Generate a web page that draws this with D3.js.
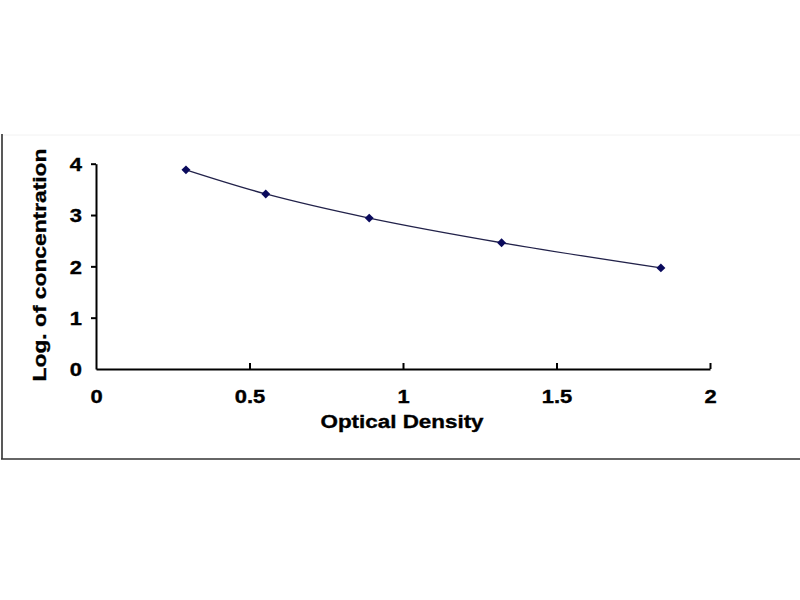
<!DOCTYPE html>
<html><head><meta charset="utf-8">
<script src="https://cdn.jsdelivr.net/npm/d3@7"></script>
<style>html,body{margin:0;padding:0;background:#fff;}</style>
</head><body>
<script>
const odValues = [0.293, 0.553, 0.890, 1.321, 1.840];
const logConc = [3.88, 3.41, 2.94, 2.46, 1.97];
const xTicks = [0, 0.5, 1, 1.5, 2];
const yTicks = [0, 1, 2, 3, 4];
const xTitle = "Optical Density";
const yTitle = "Log. of concentration";

const W = 800, H = 600;
const svg = d3.select("body").append("svg").attr("width", W).attr("height", H);
svg.append("rect").attr("width", W).attr("height", H).attr("fill", "#fff");

// outer frame (left + bottom edges)
svg.append("line").attr("x1", 2).attr("x2", 800).attr("y1", 135).attr("y2", 135).attr("stroke", "#f2f2f2").attr("stroke-width", 1);
svg.append("line").attr("x1", 2).attr("x2", 2).attr("y1", 134).attr("y2", 459).attr("stroke", "#222").attr("stroke-width", 1.5);
svg.append("line").attr("x1", 1).attr("x2", 800).attr("y1", 459).attr("y2", 459).attr("stroke", "#333").attr("stroke-width", 1.5);

const x = d3.scaleLinear().domain([0, 2]).range([96, 710]);
const y = d3.scaleLinear().domain([0, 4]).range([369, 163.7]);

const font = "Arial, 'Liberation Sans', sans-serif";
const SX = 1.22;

function styleText(sel, size) {
  sel.attr("font-family", font).attr("font-size", size).attr("font-weight", "bold")
    .attr("fill", "#000").attr("stroke", "#000").attr("stroke-width", 0.35);
}

// x axis (ticks inward/up)
const xAxis = svg.append("g").attr("transform", "translate(0,369)")
  .call(d3.axisBottom(x).tickValues(xTicks).tickSizeInner(-6).tickSizeOuter(0).tickFormat(d3.format("")));
xAxis.select(".domain").attr("stroke", "#000").attr("stroke-width", 2);
xAxis.selectAll(".tick line").attr("stroke", "#000").attr("stroke-width", 2);
xAxis.selectAll(".tick text").attr("x", 0).attr("y", 0).attr("dy", 0)
  .attr("transform", `translate(0,34) scale(${SX},1)`).call(styleText, 18);
xAxis.selectAll(".tick").filter(d => d === 0).select("line").remove();

// y axis (ticks outward/left)
const yAxis = svg.append("g").attr("transform", "translate(96,0)")
  .call(d3.axisLeft(y).tickValues(yTicks).tickSizeInner(5).tickSizeOuter(0).tickFormat(d3.format("")));
yAxis.select(".domain").attr("stroke", "#000").attr("stroke-width", 2);
yAxis.selectAll(".tick line").attr("stroke", "#000").attr("stroke-width", 2);
yAxis.selectAll(".tick text").attr("x", 0)
  .attr("transform", `translate(-14,1) scale(${SX},1)`).call(styleText, 18);
yAxis.selectAll(".tick").filter(d => d === 0).select("line").remove();

// titles
svg.append("text").attr("transform", "translate(402,428) scale(1.18,1)").attr("text-anchor", "middle")
  .call(styleText, 19).text(xTitle);
svg.append("text").attr("transform", "translate(46,265) rotate(-90) scale(1.2,1)").attr("text-anchor", "middle")
  .call(styleText, 19).text(yTitle);

const data = odValues.map((v, i) => ({x: v, y: logConc[i]}));
const line = d3.line().x(d => x(d.x)).y(d => y(d.y)).curve(d3.curveCatmullRom.alpha(0.5));
svg.append("path").datum(data).attr("d", line).attr("fill", "none").attr("stroke", "#22224a").attr("stroke-width", 1.3);

svg.selectAll(".pt").data(data).enter().append("path")
  .attr("class", "pt")
  .attr("transform", d => `translate(${x(d.x)},${y(d.y)}) rotate(45)`)
  .attr("d", d3.symbol().type(d3.symbolSquare).size(40))
  .attr("fill", "#0a0a5c");
</script>
</body></html>
